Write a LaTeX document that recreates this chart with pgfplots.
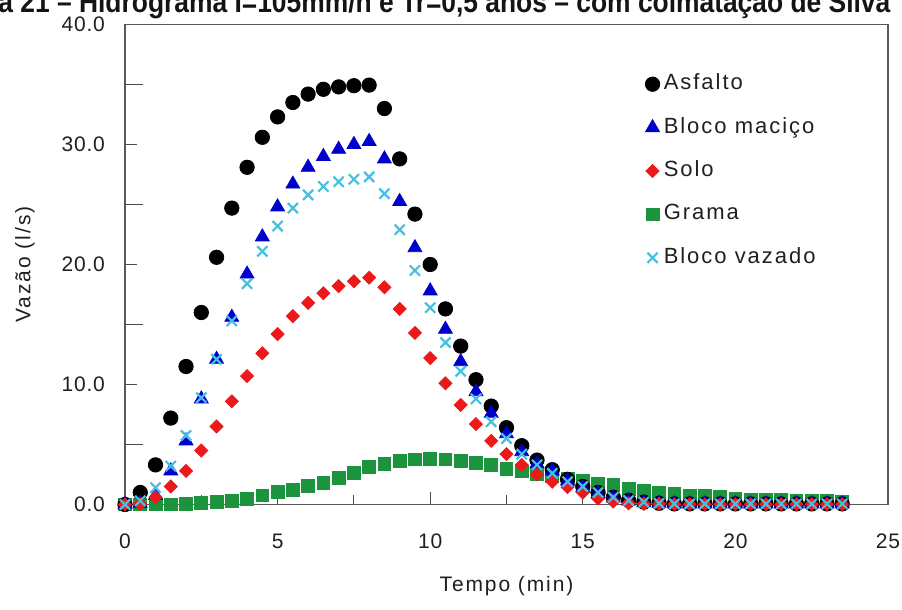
\documentclass[border=0pt]{standalone}
\usepackage{fontspec}
\setmainfont{Liberation Sans}
\newfontfamily\spaced{Liberation Sans}[LetterSpace=9]
\newfontfamily\tickfont{Liberation Sans}[LetterSpace=4]
\usepackage{graphicx}
\usepackage{pgfplots}
\pgfplotsset{compat=1.18}
\usepackage{pgfplotstable}

\definecolor{cblo}{RGB}{0,0,205}
\definecolor{csol}{RGB}{235,25,25}
\definecolor{cgra}{RGB}{28,148,62}
\definecolor{cvaz}{RGB}{70,192,222}

\pgfplotstableread{
t    asf    blo    sol    gra    vaz
0.0  0.0    0.0    0.0    0.0    0.0
0.5  1.0    0.1    0.05   0.0    0.3
1.0  3.3    0.75   0.6    0.0    1.4
1.5  7.2    2.8    1.5    0.0    3.2
2.0  11.5   5.3    2.8    0.05   5.75
2.5  16.0   8.8    4.5    0.15   8.9
3.0  20.6   12.1   6.5    0.2    12.1
3.5  24.7   15.6   8.6    0.33   15.3
4.0  28.1   19.2   10.7   0.47   18.4
4.5  30.6   22.3   12.6   0.75   21.1
5.0  32.3   24.8   14.2   1.03   23.2
5.5  33.5   26.7   15.7   1.22   24.7
6.0  34.2   28.1   16.8   1.58   25.8
6.5  34.6   29.0   17.6   1.8    26.5
7.0  34.8   29.6   18.2   2.2    26.9
7.5  34.9   30.0   18.6   2.6    27.1
8.0  34.95  30.25  18.9   3.1    27.3
8.5  33.0   28.8   18.1   3.4    25.9
9.0  28.8   25.25  16.3   3.6    22.9
9.5  24.2   21.4   14.3   3.75   19.5
10.0 20.0   17.8   12.2   3.8    16.4
10.5 16.3   14.6   10.1   3.75   13.5
11.0 13.2   11.9   8.3    3.6    11.1
11.5 10.4   9.4    6.7    3.45   8.8
12.0 8.2    7.6    5.3    3.3    6.9
12.5 6.4    5.9    4.2    2.97   5.5
13.0 4.9    4.4    3.3    2.75   4.2
13.5 3.7    3.4    2.5    2.55   3.3
14.0 2.9    2.8    1.9    2.36   2.6
14.5 2.1    1.95   1.45   2.1    1.9
15.0 1.5    1.4    1.0    1.95   1.5
15.5 1.0    0.9    0.5    1.75   1.0
16.0 0.6    0.55   0.25   1.65   0.6
16.5 0.35   0.3    0.1    1.33   0.33
17.0 0.2    0.15   0.05   1.1    0.2
17.5 0.1    0.1    0.05   0.95   0.1
18.0 0.05   0.05   0.02   0.86   0.05
18.5 0.05   0.05   0.02   0.75   0.05
19.0 0.05   0.05   0.02   0.7    0.05
19.5 0.05   0.05   0.02   0.6    0.05
20.0 0.05   0.05   0.02   0.5    0.05
20.5 0.05   0.05   0.02   0.42   0.05
21.0 0.05   0.05   0.02   0.39   0.05
21.5 0.05   0.05   0.02   0.35   0.05
22.0 0.05   0.05   0.02   0.33   0.05
22.5 0.05   0.05   0.02   0.3    0.05
23.0 0.05   0.05   0.02   0.28   0.05
23.5 0.05   0.05   0.02   0.25   0.05
}\data

\pgfplotsset{
  asfS/.style={only marks, mark=*, mark size=3.6pt, draw=black, fill=black},
  bloS/.style={only marks, mark=triangle*, mark size=4pt, draw=cblo, fill=cblo},
  solS/.style={only marks, mark=square*, mark size=2.3pt, mark options={rotate=45}, draw=csol, fill=csol},
  graS/.style={only marks, mark=square*, mark size=3.2pt, draw=cgra, fill=cgra},
  vazS/.style={only marks, mark=x, mark size=3.6pt, draw=cvaz, mark options={line width=1.1pt}},
}

\begin{document}
\begin{tikzpicture}
\begin{scope}
\clip (-62.5pt,-52.75pt) rectangle (388.5pt,252.25pt);
\node[anchor=base west, inner sep=0pt, text=black!92] at (-63.5pt,245.75pt)
  {\resizebox{446pt}{\height}{\fontsize{15}{18}\selectfont\bfseries a 21 – Hidrograma I=105mm/h e Tr=0,5 anos – com colmatação de Silva}};
\begin{axis}[
  width=381.5pt, height=240pt, scale only axis,
  xmin=0, xmax=25, ymin=0, ymax=40,
  xtick={0,5,...,25}, minor xtick={2.5,7.5,...,22.5},
  ytick={0,10,...,40},
  extra y ticks={5,15,25,35}, extra y tick labels={},
  extra y tick style={major tick length=9pt},
  tick pos=left, tick align=inside,
  major tick length=6pt, minor tick length=4.5pt,
  every tick/.append style={black!70, line width=0.6pt},
  axis line style={black!65, line width=0.8pt},
  ticklabel style={font=\tickfont\fontsize{10.5}{12}\selectfont, text=black!88},
  /pgf/number format/assume math mode=true,
  xticklabel style={yshift=-11pt},
  yticklabel style={xshift=-6.5pt, /pgf/number format/fixed, /pgf/number format/fixed zerofill, /pgf/number format/precision=1},
  xlabel={\spaced Tempo (min)},
  ylabel={\spaced Vazão (l/s)},
  xlabel style={at={(axis description cs:0.5,-0.169)}, anchor=center, font=\fontsize{10.5}{12}\selectfont, text=black!88},
  ylabel style={at={(axis description cs:-0.131,0.5)}, anchor=center, font=\fontsize{10.5}{12}\selectfont, text=black!88},
  legend style={at={(0.6736,0.915)}, anchor=north west, draw=none, fill=none,
    row sep=7.2pt, font=\spaced\fontsize{11}{13}\selectfont, text=black!88,
    nodes={text height=8pt, text depth=2.5pt},
    /tikz/every even column/.append style={column sep=4.5pt}},
  legend cell align=left,
  legend image code/.code={\draw[#1] plot coordinates {(0cm,0cm)};},
]
\addplot[graS, forget plot] table[x=t, y=gra] {\data};
\addplot[asfS] table[x=t, y=asf] {\data};
\addlegendentry{Asfalto}
\addplot[bloS] table[x=t, y=blo] {\data};
\addlegendentry{Bloco maciço}
\addplot[solS] table[x=t, y=sol] {\data};
\addlegendentry{Solo}
\addlegendimage{graS}
\addlegendentry{Grama}
\addplot[vazS] table[x=t, y=vaz] {\data};
\addlegendentry{Bloco vazado}
\end{axis}
\end{scope}
\pgfresetboundingbox
\path[use as bounding box] (-62.5pt,-52.75pt) rectangle (388.5pt,252.25pt);
\end{tikzpicture}
\end{document}
